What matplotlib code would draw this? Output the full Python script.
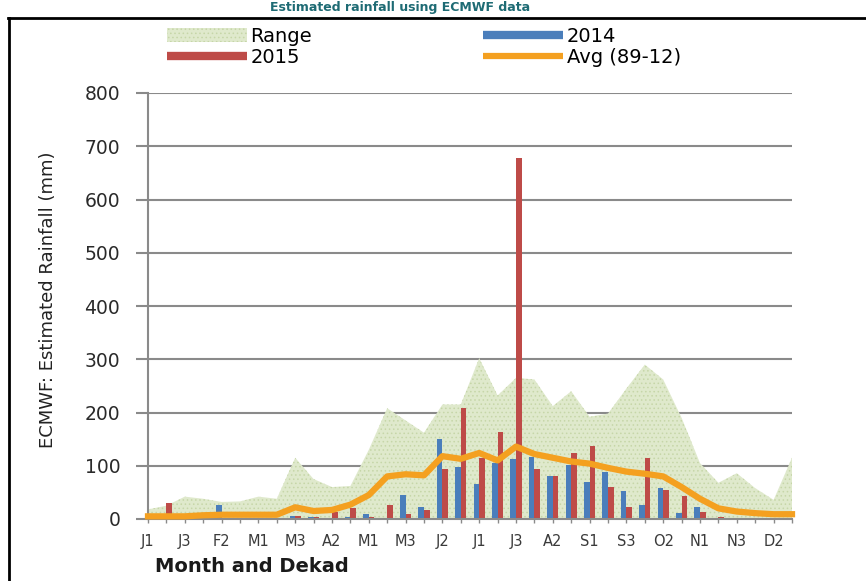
import numpy as np
import matplotlib.pyplot as plt
from matplotlib.lines import Line2D
from matplotlib.patches import Patch

plt.rcParams['hatch.linewidth'] = 0.6

# dekads Jan 1 .. Dec 3
dekads = ['J1', 'J2', 'J3', 'F1', 'F2', 'F3', 'M1', 'M2', 'M3', 'A1', 'A2', 'A3',
          'M1', 'M2', 'M3', 'J1', 'J2', 'J3', 'J1', 'J2', 'J3', 'A1', 'A2', 'A3',
          'S1', 'S2', 'S3', 'O1', 'O2', 'O3', 'N1', 'N2', 'N3', 'D1', 'D2', 'D3']

range_hi = [18, 25, 42, 38, 32, 33, 42, 38, 115, 75, 60, 62,
            130, 208, 185, 162, 215, 215, 302, 232, 265, 262, 212, 240,
            192, 198, 245, 290, 262, 190, 105, 68, 86, 58, 36, 115]

rain_2014 = [0, 0, 0, 0, 26, 0, 0, 0, 5, 4, 2, 3,
             10, 2, 46, 22, 150, 97, 66, 105, 112, 116, 81, 101,
             70, 88, 53, 26, 58, 11, 22, 2, 2, 2, 1, 0]

rain_2015 = [0, 30, 0, 0, 0, 0, 0, 0, 5, 3, 13, 20,
             3, 27, 10, 17, 94, 208, 114, 164, 678, 94, 81, 124,
             137, 60, 22, 114, 55, 43, 14, 3, 2, 2, 1, 0]

avg_89_12 = [5, 5, 5, 7, 8, 8, 8, 8, 22, 15, 17, 27,
             45, 80, 84, 82, 118, 113, 124, 110, 136, 122, 115, 108,
             104, 96, 89, 85, 80, 60, 38, 20, 14, 11, 9, 9]

blue = '#4a7ebb'
red = '#be4b48'
orange = '#f4a020'
green_fill = '#dfe9cc'
green_dot = '#c6d6a8'
grid_c = '#8a8a8a'

x = np.arange(len(dekads))

fig = plt.figure(figsize=(8.66, 5.81), dpi=100)
ax = fig.add_axes([148/866, 62/581, (792-148)/866, (519-93)/581])

ax.fill_between(x, 0, range_hi, facecolor=green_fill, edgecolor=green_dot,
                hatch='....', linewidth=0, zorder=1)
ax.bar(x - 0.15, rain_2014, width=0.3, color=blue, zorder=2)
ax.bar(x + 0.15, rain_2015, width=0.3, color=red, zorder=2)
ax.plot(x, avg_89_12, color=orange, lw=4.5, zorder=3, solid_joinstyle='round',
        clip_on=False)

ax.set_xlim(0, 35)
ax.set_ylim(0, 800)
ax.set_yticks(np.arange(0, 801, 100))
ax.yaxis.grid(True, color=grid_c, lw=1.5)
ax.set_axisbelow(True)

ax.set_xticks(x)
ax.set_xticklabels([d if i % 2 == 0 else '' for i, d in enumerate(dekads)],
                   fontsize=10.5, color='#3a3a3a')
ax.tick_params(axis='x', length=3, width=1, color=grid_c, pad=8)
ax.tick_params(axis='y', length=9, width=1.5, color=grid_c, pad=11,
               labelsize=13.5, labelcolor='#2a2a2a')

for s in ['top', 'right']:
    ax.spines[s].set_visible(False)
for s in ['left', 'bottom']:
    ax.spines[s].set_color(grid_c)
    ax.spines[s].set_linewidth(1.5)

fig.text(48/866, 1 - 300/581, 'ECMWF: Estimated Rainfall (mm)', rotation=90,
         ha='center', va='center', fontsize=13, color='#222222')
fig.text(155/866, 1 - 566/581, 'Month and Dekad', ha='left', va='center',
         fontsize=14, fontweight='bold', color='#1a1a1a')

# legend, two columns
h_range = Patch(facecolor=green_fill, edgecolor=green_dot, hatch='....', linewidth=0)
h_2015 = Line2D([], [], color=red, lw=6, solid_capstyle='butt')
h_2014 = Line2D([], [], color=blue, lw=6, solid_capstyle='butt')
h_avg = Line2D([], [], color=orange, lw=4.5, solid_capstyle='butt')
leg_kw = dict(frameon=False, borderpad=0, borderaxespad=0, handlelength=4.1,
              handletextpad=0.2, labelspacing=0.1, loc='upper left',
              prop={'size': 14})
fig.legend([h_range, h_2015], ['Range', '2015'],
           bbox_to_anchor=(167/866, 1 - 27/581), **leg_kw)
fig.legend([h_2014, h_avg], ['2014', 'Avg (89-12)'],
           bbox_to_anchor=(483/866, 1 - 27/581), **leg_kw)

# caption above the frame of the source page
fig.text(400/866, 1 - 8/581, 'Estimated rainfall using ECMWF data', ha='center',
         va='center', fontsize=9, fontweight='bold', color='#1e6b74')
fig.add_artist(Line2D([8/866, 1], [1 - 18/581, 1 - 18/581],
                      transform=fig.transFigure, color='black', lw=2))
fig.add_artist(Line2D([9/866, 9/866], [0, 1 - 18/581],
                      transform=fig.transFigure, color='black', lw=2))

fig.savefig('out.png', dpi=100)
